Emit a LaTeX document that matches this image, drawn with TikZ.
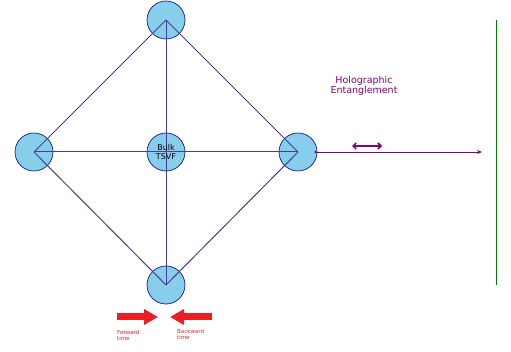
\documentclass[tikz,border=0pt]{standalone}
\usepackage{fontspec}
\setmainfont{DejaVu Sans}
\usetikzlibrary{arrows.meta}
\definecolor{skyb}{RGB}{135,206,235}
\definecolor{navyb}{RGB}{20,20,140}
\definecolor{edgec}{RGB}{72,61,150}
\definecolor{purp}{RGB}{128,0,128}
\definecolor{grn}{RGB}{0,128,0}
\definecolor{redar}{RGB}{235,30,35}
\tikzset{
  vert/.style={circle, minimum size=38pt, inner sep=0pt, fill=skyb, draw=navyb, line width=0.7pt},
  edge/.style={draw=edgec, line width=1pt},
  tarrow/.style={redar, line width=7pt, -{Triangle[length=14pt,width=15pt]}},
  tlabel/.style={text=redar, font=\fontsize{5.5}{6.5}\selectfont, align=left, anchor=north west, inner sep=0pt}
}
\begin{document}
\begin{tikzpicture}[x=1pt,y=-1pt]
\useasboundingbox (0,0) rectangle (511,352);
\node[vert] (T) at (166,20) {};
\node[vert] (L) at (34,152) {};
\node[vert] (R) at (298,152) {};
\node[vert] (B) at (166,285) {};
\node[vert] (C) at (166,152) {};
\draw[edge] (T.center) -- (L.center);
\draw[edge] (T.center) -- (R.center);
\draw[edge] (B.center) -- (L.center);
\draw[edge] (B.center) -- (R.center);
\draw[edge] (T.center) -- (B.center);
\draw[edge] (L.center) -- (R.center);
\node[font=\fontsize{8}{8.5}\selectfont, align=center] at (C) {Bulk\\TSVF};
\coordinate (ps) at (314,152);
\coordinate (pe) at (482,152);
\draw[purp, line width=0.8pt, {Stealth[length=3pt,width=3pt]}-{Stealth[length=5pt,width=4pt]}] (ps) -- (pe);
\coordinate (ds) at (352,146);
\coordinate (de) at (382,146);
\draw[purp, line width=1.6pt, {Straight Barb[length=3pt,width=6pt]}-{Straight Barb[length=3pt,width=6pt]}] (ds) -- (de);
\node[text=purp, font=\fontsize{9.5}{10.5}\selectfont, align=center] (H) at (364,86) {Holographic\\Entanglement};
\coordinate (g1) at (496,20);
\coordinate (g2) at (496,285);
\draw[grn, line width=1pt] (g1) -- (g2);
\coordinate (f1) at (117,317);
\coordinate (f2) at (158,317);
\coordinate (b1) at (212,317);
\coordinate (b2) at (170,317);
\draw[tarrow] (f1) -- (f2);
\draw[tarrow] (b1) -- (b2);
\node[tlabel] (FT) at (117,330) {Forward\\time};
\node[tlabel] (BT) at (177,329) {Backward\\time};
\end{tikzpicture}
\end{document}
